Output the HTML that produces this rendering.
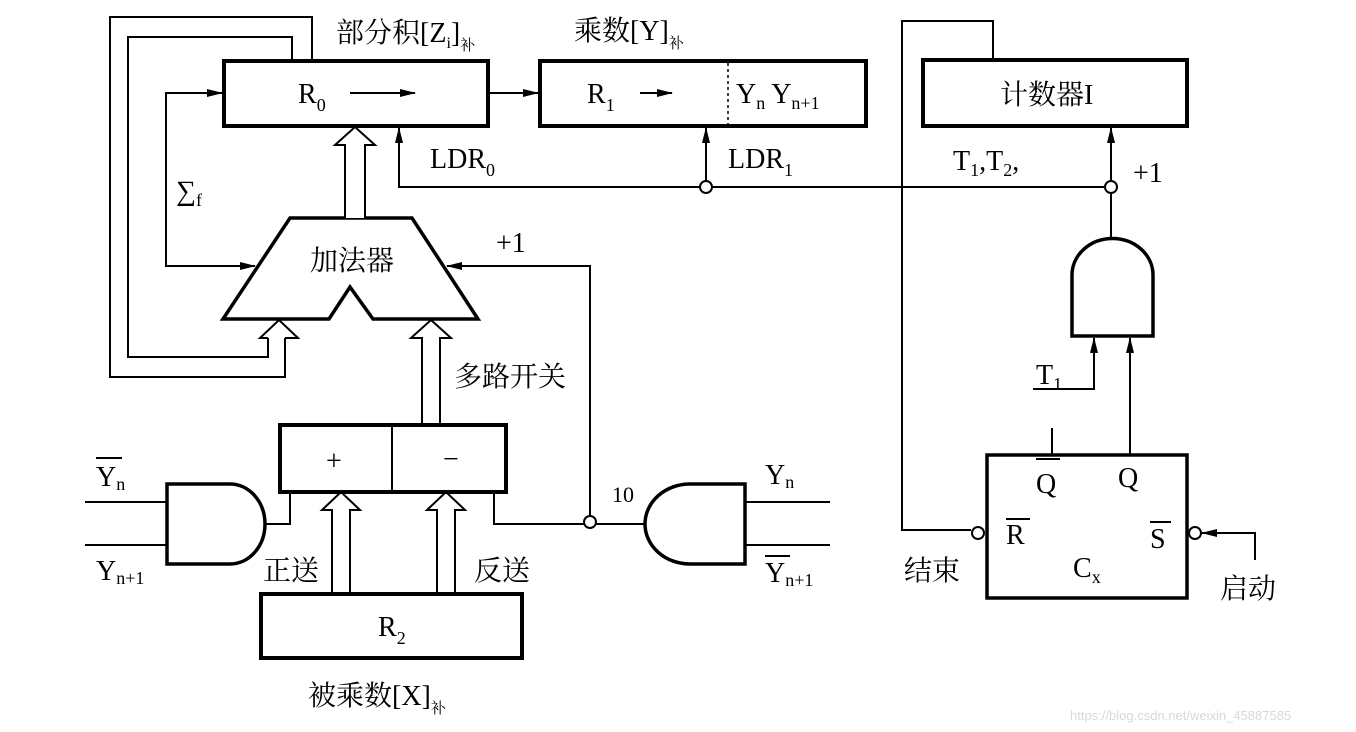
<!DOCTYPE html>
<html><head><meta charset="utf-8"><style>
html,body{margin:0;padding:0;background:#fff}
svg{display:block}
text{font-family:"Liberation Serif","Noto Serif CJK SC",serif;fill:#000}
</style></head><body>
<svg width="1356" height="732" viewBox="0 0 1356 732" xmlns="http://www.w3.org/2000/svg">
<defs>
<marker id="a" markerWidth="16" markerHeight="10" refX="15" refY="5" orient="auto" markerUnits="userSpaceOnUse">
<path d="M0,1 L16,5 L0,9 z" fill="#000"/></marker>
</defs>
<g stroke="#000" fill="none" stroke-width="2">
<rect x="224" y="61" width="264" height="65" stroke-width="4"/>
<rect x="540" y="61" width="326" height="65" stroke-width="4"/>
<line x1="728" y1="63" x2="728" y2="124" stroke-dasharray="3,3" stroke-width="1.5"/>
<rect x="923" y="60" width="264" height="66" stroke-width="4"/>
<polyline points="312,61 312,17 110,17 110,377 285,377 285,338"/>
<polyline points="292,61 292,37 128,37 128,357 268,357 268,338"/>
<polyline points="222,93 166,93 166,266 253,266" />
<line x1="166" y1="93" x2="222" y2="93" marker-end="url(#a)"/>
<line x1="166" y1="266" x2="255" y2="266" marker-end="url(#a)"/>
<line x1="488" y1="93" x2="538" y2="93" marker-end="url(#a)"/>
<line x1="350" y1="93" x2="415" y2="93" marker-end="url(#a)"/>
<line x1="640" y1="93" x2="672" y2="93" marker-end="url(#a)"/>
<polygon points="290,218 412,218 478,319 373,319 350,287 329,319 223,319" stroke-width="3.5"/>
<path d="M345,218 V145 H335 L355,127 L375,145 H365 V218" fill="#fff"/>
<path d="M268,338 H260 L279,320 L298,338 H285"/>
<path d="M422,425 V338 H411 L431,320 L451,338 H440 V425" fill="#fff"/>
<path d="M332,593 V510 H322 L341,492 L360,510 H350 V593" fill="#fff"/>
<path d="M437,593 V510 H427 L446,492 L465,510 H455 V593" fill="#fff"/>
<polyline points="399,129 399,187 700,187"/>
<line x1="399" y1="187" x2="399" y2="128" marker-end="url(#a)"/>
<line x1="712" y1="187" x2="1104" y2="187"/>
<circle cx="706" cy="187" r="6" fill="#fff"/>
<line x1="706" y1="181" x2="706" y2="128" marker-end="url(#a)"/>
<polyline points="590,516 590,266 448,266"/>
<line x1="500" y1="266" x2="447" y2="266" marker-end="url(#a)"/>
<rect x="280" y="425" width="226" height="67" stroke-width="4"/>
<line x1="392" y1="427" x2="392" y2="490"/>
<rect x="261" y="594" width="261" height="64" stroke-width="4"/>
<path d="M167,484 H230 A35,40 0 0 1 230,564 H167 Z" stroke-width="3.5"/>
<line x1="85" y1="502" x2="167" y2="502"/>
<line x1="85" y1="545" x2="167" y2="545"/>
<polyline points="265,524 290,524 290,492"/>
<polyline points="494,492 494,524 584,524"/>
<circle cx="590" cy="522" r="6" fill="#fff"/>
<line x1="596" y1="524" x2="645" y2="524"/>
<path d="M745,484 H690 A45,40 0 0 0 690,564 H745 Z" stroke-width="3.5"/>
<line x1="745" y1="502" x2="830" y2="502"/>
<line x1="745" y1="545" x2="830" y2="545"/>
<polyline points="993,60 993,21 902,21 902,530 971,530"/>
<circle cx="1111" cy="187" r="6" fill="#fff"/>
<line x1="1111" y1="181" x2="1111" y2="128" marker-end="url(#a)"/>
<line x1="1111" y1="193" x2="1111" y2="239"/>
<path d="M1072,336 V275 A40,36 0 0 1 1153,275 V336 Z" stroke-width="3.5"/>
<polyline points="1033,389 1094,389 1094,338"/>
<line x1="1094" y1="389" x2="1094" y2="338" marker-end="url(#a)"/>
<line x1="1130" y1="455" x2="1130" y2="338" marker-end="url(#a)"/>
<line x1="1052" y1="428" x2="1052" y2="455"/>
<rect x="987" y="455" width="200" height="143" stroke-width="3.5"/>
<circle cx="978" cy="533" r="6" fill="#fff"/>
<circle cx="1195" cy="533" r="6" fill="#fff"/>
<polyline points="1255,560 1255,533 1203,533"/>
<line x1="1230" y1="533" x2="1202" y2="533" marker-end="url(#a)"/>
<line x1="96" y1="458" x2="122" y2="458"/>
<line x1="765" y1="556" x2="790" y2="556"/>
<line x1="1036" y1="459" x2="1060" y2="459"/>
<line x1="1006" y1="519" x2="1030" y2="519"/>
<line x1="1150" y1="522" x2="1171" y2="522"/>
</g>
<g font-size="28">
<text x="336" y="42">部分积[Z<tspan font-size="16" dy="6">i</tspan><tspan dy="-6">]</tspan><tspan font-size="15" dy="8">补</tspan></text>
<text x="574" y="40">乘数[Y]<tspan font-size="15" dy="8">补</tspan></text>
<text x="298" y="103">R<tspan font-size="18" dy="8">0</tspan></text>
<text x="587" y="103">R<tspan font-size="18" dy="8">1</tspan></text>
<text x="736" y="103">Y<tspan font-size="18" dy="6">n</tspan><tspan dy="-6"> Y</tspan><tspan font-size="18" dy="6">n+1</tspan></text>
<text x="1000" y="104">计数器I</text>
<text x="430" y="168">LDR<tspan font-size="18" dy="8">0</tspan></text>
<text x="728" y="168">LDR<tspan font-size="18" dy="8">1</tspan></text>
<text x="953" y="170">T<tspan font-size="18" dy="6">1</tspan><tspan dy="-6">,T</tspan><tspan font-size="18" dy="6">2</tspan><tspan dy="-6">,</tspan></text>
<text x="1133" y="182">+1</text>
<text x="176" y="200">∑<tspan font-size="18" dy="6">f</tspan></text>
<text x="310" y="270">加法器</text>
<text x="496" y="252">+1</text>
<text x="454" y="386">多路开关</text>
<text x="326" y="470">+</text>
<text x="443" y="468">−</text>
<text x="96" y="486">Y<tspan font-size="18" dy="4">n</tspan></text>
<text x="96" y="580">Y<tspan font-size="18" dy="4">n+1</tspan></text>
<text x="263" y="580">正送</text>
<text x="474" y="580">反送</text>
<text x="612" y="502" font-size="22">10</text>
<text x="765" y="484">Y<tspan font-size="18" dy="4">n</tspan></text>
<text x="765" y="582">Y<tspan font-size="18" dy="4">n+1</tspan></text>
<text x="378" y="636">R<tspan font-size="18" dy="8">2</tspan></text>
<text x="308" y="705">被乘数[X]<tspan font-size="15" dy="8">补</tspan></text>
<text x="1036" y="384">T<tspan font-size="18" dy="6">1</tspan></text>
<text x="1036" y="493">Q</text>
<text x="1118" y="487">Q</text>
<text x="1006" y="544">R</text>
<text x="1150" y="548">S</text>
<text x="1073" y="577">C<tspan font-size="18" dy="6">x</tspan></text>
<text x="904" y="580">结束</text>
<text x="1220" y="598">启动</text>
</g>
<text x="1070" y="720" font-size="13" style="fill:#d8d8d8;font-family:'Liberation Sans',sans-serif">https://blog.csdn.net/weixin_45887585</text>
</svg>
</body></html>
